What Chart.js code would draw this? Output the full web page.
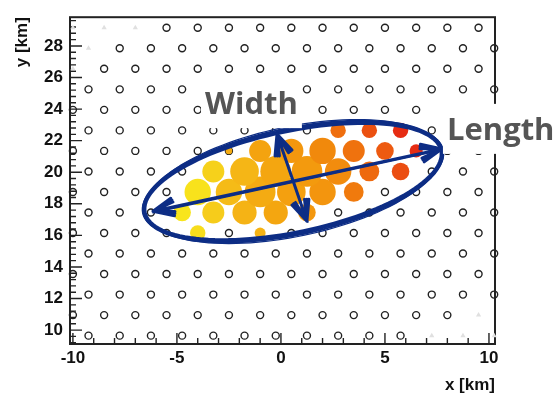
<!DOCTYPE html>
<html>
<head>
<meta charset="utf-8">
<script src="https://cdn.jsdelivr.net/npm/chart.js@4.4.0/dist/chart.umd.min.js"></script>
<style>
  body { margin: 0; background: #fff; }
</style>
</head>
<body>
<canvas id="showerChart" width="558" height="396"></canvas>
<script>
// detector stations on a 1.5 km triangular grid (km)
const rowsA = [10.95, 13.55, 16.15, 18.75, 21.35, 23.95, 26.55, 29.15];
const colsA = [-10, -8.5, -7, -5.5, -4, -2.5, -1, 0.5, 2, 3.5, 5, 6.5, 8, 9.5];
const rowsB = [9.65, 12.25, 14.85, 17.45, 20.05, 22.65, 25.25, 27.85];
const colsB = [-9.25, -7.75, -6.25, -4.75, -3.25, -1.75, -0.25, 1.25, 2.75, 4.25, 5.75, 7.25, 8.75, 10.25];
const missingX = [-10, -8.5, -7, -9.25, -10, 9.5, 7.25, 8.75, 10.25];
const missingY = [29.15, 29.15, 29.15, 27.85, 26.55, 10.95, 9.65, 9.65, 9.65];

// triggered stations: signal and arrival time
const hitX = [-4, -1, -4.75, -3.25, -1.75, -0.25, 1.25, -4, -2.5, -1, 0.5, 2, 3.5,
  -3.25, -1.75, -0.25, 1.25, 2.75, 4.25, 5.75, -2.5, -1, 0.5, 2, 3.5, 5, 6.5, 2.75, 4.25, 5.75];
const hitY = [16.15, 16.15, 17.45, 17.45, 17.45, 17.45, 17.45, 18.75, 18.75, 18.75, 18.75, 18.75, 18.75,
  20.05, 20.05, 20.05, 20.05, 20.05, 20.05, 20.05, 21.35, 21.35, 21.35, 21.35, 21.35, 21.35, 21.35, 22.65, 22.65, 22.65];
const hitSignal = [49, 25, 64, 100, 121, 121, 64, 144, 144, 196, 169, 144, 81,
  100, 169, 196, 196, 144, 81, 64, 9, 100, 121, 144, 100, 64, 36, 49, 49, 49];
const hitTime = [0.5, 3, 0, 1.5, 3, 3.8, 4.8, 0.2, 2.5, 3.5, 4.2, 5, 6.5,
  1.2, 2.8, 3.8, 4.6, 5.6, 7.2, 8.3, 3.5, 4, 4.8, 5.8, 6.8, 7.8, 9.5, 7, 8.2, 9.5];

const xTicks = [-10, -5, 0, 5, 10];
const yTicks = [10, 12, 14, 16, 18, 20, 22, 24, 26, 28];

// footprint ellipse (centre + conjugate half axes) and the two axes (km)
const ellipseCenter = [0.58, 19.41];
const ellipseMajor = [7.15, 1.98];
const ellipseMinor = [-0.52, 3.19];
const lengthArrow = [[-6.15, 17.53], [7.74, 21.48]];
const widthArrow = [[-0.19, 22.42], [1.25, 16.9]];
const labelWidth = [-3.65, 23.68];
const labelLength = [7.98, 22.05];

const timeColors = ["#f8e51c", "#f5c31a", "#f4a30f", "#f1860c", "#ec5510", "#e41e14"];
function hex(c) { return [1, 3, 5].map(i => parseInt(c.substr(i, 2), 16)); }
function timeColor(t) {
    const f = Math.max(0, Math.min(1, t / 10)) * (timeColors.length - 1);
    const i = Math.min(Math.floor(f), timeColors.length - 2);
    const a = hex(timeColors[i]), b = hex(timeColors[i + 1]), k = f - i;
    return "rgb(" + a.map((v, j) => Math.round(v + (b[j] - v) * k)).join(",") + ")";
}

const stations = [];
rowsA.forEach(y => colsA.forEach(x => stations.push({x, y})));
rowsB.forEach(y => colsB.forEach(x => stations.push({x, y})));
const missing = missingX.map((x, i) => ({x, y: missingY[i]}));
const live = stations.filter(s => !missing.some(m => m.x === s.x && m.y === s.y));
const hits = hitX.map((x, i) => ({x, y: hitY[i], r: 1.1 * Math.sqrt(hitSignal[i])}));

const tickFont = {family: "'Liberation Sans', Arial, sans-serif", size: 17, weight: "bold"};
const blue = "#0d2d85";

const frame = {
    id: "frame",
    beforeDatasetsDraw(chart) {
        const {ctx, chartArea: a, scales: {x, y}} = chart;
        ctx.save();
        ctx.strokeStyle = "#222";
        ctx.lineWidth = 2;
        ctx.strokeRect(a.left, a.top, a.right - a.left, a.bottom - a.top);
        ctx.lineWidth = 1.4;
        ctx.beginPath();
        for (let i = Math.ceil(y.min / 0.4); i * 0.4 <= y.max; i++) {
            const v = i * 0.4, p = y.getPixelForValue(v);
            const major = Math.abs(v / 2 - Math.round(v / 2)) < 1e-6;
            ctx.moveTo(a.left, p);
            ctx.lineTo(a.left + (major ? 12 : 6), p);
        }
        for (let i = Math.ceil(x.min); i <= x.max; i++) {
            const p = x.getPixelForValue(i);
            ctx.moveTo(p, a.bottom);
            ctx.lineTo(p, a.bottom - (i % 5 === 0 ? 11 : 6));
        }
        ctx.stroke();
        ctx.restore();
    }
};

function arrowHead(ctx, from, to, len) {
    const ang = Math.atan2(to[1] - from[1], to[0] - from[0]);
    [-0.42, 0.42, -0.32, 0.32, -0.22, 0.22].forEach(d => {
        ctx.moveTo(to[0], to[1]);
        ctx.lineTo(to[0] - len * Math.cos(ang + d), to[1] - len * Math.sin(ang + d));
    });
}

const sketch = {
    id: "sketch",
    afterDatasetsDraw(chart) {
        const {ctx, scales: {x, y}} = chart;
        const px = p => [x.getPixelForValue(p[0]), y.getPixelForValue(p[1])];
        const c = px(ellipseCenter);
        const m = px([ellipseCenter[0] + ellipseMajor[0], ellipseCenter[1] + ellipseMajor[1]]);
        const n = px([ellipseCenter[0] + ellipseMinor[0], ellipseCenter[1] + ellipseMinor[1]]);
        const u = [m[0] - c[0], m[1] - c[1]], v = [n[0] - c[0], n[1] - c[1]];
        ctx.save();
        ctx.strokeStyle = blue;
        ctx.lineCap = "round";
        ctx.lineJoin = "round";
        [[1, 1, 3], [0.99, 0.965, 2], [1.006, 1.035, 2], [0.996, 1.065, 1.2], [1.01, 0.985, 1.5]].forEach(([su, sv, w]) => {
            ctx.lineWidth = w;
            ctx.beginPath();
            for (let k = 0; k <= 120; k++) {
                const t = k / 120 * Math.PI * 2;
                const px2 = c[0] + su * u[0] * Math.cos(t) + sv * v[0] * Math.sin(t);
                const py2 = c[1] + su * u[1] * Math.cos(t) + sv * v[1] * Math.sin(t);
                k ? ctx.lineTo(px2, py2) : ctx.moveTo(px2, py2);
            }
            ctx.stroke();
        });
        [lengthArrow, widthArrow].forEach(arr => {
            const a = px(arr[0]), b = px(arr[1]);
            ctx.lineWidth = 3;
            ctx.beginPath();
            ctx.moveTo(a[0], a[1]);
            ctx.lineTo(b[0], b[1]);
            arrowHead(ctx, a, b, 22);
            arrowHead(ctx, b, a, 22);
            ctx.stroke();
            ctx.lineWidth = 1.4;
            ctx.beginPath();
            ctx.moveTo(a[0], a[1] + 1.5);
            ctx.lineTo(b[0] + 1, b[1] + 1);
            ctx.stroke();
        });
        ctx.restore();
    },
    afterDraw(chart) {
        const {ctx, scales: {x, y}} = chart;
        ctx.save();
        ctx.font = "bold 31px 'Open Sans', sans-serif";
        [["Width", labelWidth], ["Length", labelLength]].forEach(([txt, pos]) => {
            const px2 = x.getPixelForValue(pos[0]), py2 = y.getPixelForValue(pos[1]);
            const w = ctx.measureText(txt).width;
            ctx.fillStyle = "#fff";
            ctx.fillRect(px2 - 4, py2 - 36, w + 8, 50);
            ctx.fillStyle = "#555";
            ctx.fillText(txt, px2, py2);
        });
        ctx.restore();
    }
};

new Chart(document.getElementById("showerChart"), {
    type: "scatter",
    data: {
        datasets: [{
            label: "signal",
            type: "bubble",
            data: hits,
            backgroundColor: hitTime.map(timeColor),
            borderWidth: 0,
            order: 0
        }, {
            label: "stations",
            data: live,
            pointStyle: "circle",
            pointRadius: 3.5,
            borderColor: "#222",
            borderWidth: 1.4,
            backgroundColor: "rgba(0,0,0,0)",
            clip: false,
            order: 2
        }, {
            label: "missing",
            data: missing,
            pointStyle: "triangle",
            pointRadius: 3,
            backgroundColor: "#e0e0e0",
            borderWidth: 0,
            clip: false,
            order: 3
        }]
    },
    options: {
        responsive: false,
        animation: false,
        layout: {padding: {top: 14, right: 63, left: 0, bottom: 0}},
        plugins: {legend: {display: false}, tooltip: {enabled: false}},
        scales: {
            x: {
                type: "linear",
                min: -10.14,
                max: 10.29,
                afterBuildTicks: s => { s.ticks = xTicks.map(v => ({value: v})); },
                afterFit: s => { s.height = 52; },
                grid: {display: false, drawTicks: false},
                border: {display: false},
                ticks: {font: tickFont, color: "#111", padding: 4, maxRotation: 0, autoSkip: false},
                title: {display: true, text: "x [km]", align: "end", font: tickFont, color: "#111", padding: 0}
            },
            y: {
                type: "linear",
                min: 9.12,
                max: 29.82,
                afterBuildTicks: s => { s.ticks = yTicks.map(v => ({value: v})); },
                afterFit: s => { s.width = 70; },
                grid: {display: false, drawTicks: false},
                border: {display: false},
                ticks: {font: tickFont, color: "#111", padding: 7, autoSkip: false},
                title: {display: true, text: "y [km]", align: "end", font: tickFont, color: "#111", padding: {top: 12, bottom: 0}}
            }
        }
    },
    plugins: [frame, sketch]
});
</script>
</body>
</html>
